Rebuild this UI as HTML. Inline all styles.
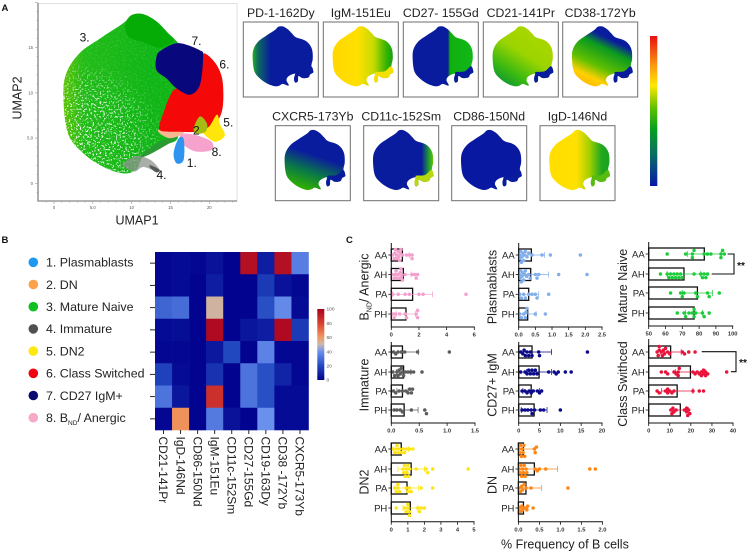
<!DOCTYPE html>
<html lang="en">
<head>
<meta charset="utf-8">
<title>B cell UMAP, heatmap and frequency panels</title>
<style>
html,body{margin:0;padding:0;background:#fff;}
svg{display:block;font-family:"Liberation Sans",sans-serif;}
</style>
</head>
<body>
<svg id="figure" xmlns="http://www.w3.org/2000/svg" width="749" height="553" viewBox="0 0 749 553">
  <defs>
    <filter id="speckle" x="0" y="0" width="100%" height="100%">
      <feTurbulence type="fractalNoise" baseFrequency="0.55" numOctaves="2" seed="7"/>
      <feColorMatrix type="matrix" values="0 0 0 0 1  0 0 0 0 1  0 0 0 0 1  0 0 0 16 -9.4"/>
    </filter>
    <radialGradient id="speckle-density" gradientUnits="userSpaceOnUse" cx="80" cy="145" r="85">
      <stop offset="0" stop-color="#fff" stop-opacity="1"/>
      <stop offset="0.6" stop-color="#fff" stop-opacity="0.75"/>
      <stop offset="1" stop-color="#fff" stop-opacity="0.1"/>
    </radialGradient>
    <mask id="speckle-mask" maskUnits="userSpaceOnUse" x="0" y="0" width="749" height="553">
      <rect x="0" y="0" width="749" height="553" fill="url(#speckle-density)"/>
    </mask>
    <linearGradient id="green-fill" gradientUnits="userSpaceOnUse" x1="62" y1="70" x2="150" y2="70">
      <stop offset="0" stop-color="#60c406"/>
      <stop offset="0.25" stop-color="#22bc18"/>
      <stop offset="1" stop-color="#10b616"/>
    </linearGradient>
    <linearGradient id="expression-scale" x1="0" y1="0" x2="0" y2="1">
      <stop offset="0" stop-color="#e81010"/>
      <stop offset="0.2" stop-color="#fb9a10"/>
      <stop offset="0.33" stop-color="#ffe800"/>
      <stop offset="0.48" stop-color="#60c000"/>
      <stop offset="0.62" stop-color="#04a020"/>
      <stop offset="0.78" stop-color="#0a7060"/>
      <stop offset="1" stop-color="#0418a8"/>
    </linearGradient>
    <linearGradient id="heat-scale" x1="0" y1="1" x2="0" y2="0">
      <stop offset="0" stop-color="#00008c"/>
      <stop offset="0.2" stop-color="#2248c0"/>
      <stop offset="0.4" stop-color="#6a90ee"/>
      <stop offset="0.5" stop-color="#c8b8b0"/>
      <stop offset="0.6" stop-color="#f09a60"/>
      <stop offset="0.8" stop-color="#d84030"/>
      <stop offset="1" stop-color="#a80020"/>
    </linearGradient>
  </defs>
</svg>
<script>
/* ---------- UMAP cluster outlines, in UMAP coordinates [umap1, umap2] ---------- */
const umapOutline = [[10,18.6],[11.5,18.7],[13.2,17.9],[14.7,16.6],[16,15.5],[18.8,14.7],[20.5,13.6],[21.6,11.8],[21.8,9.2],[21.4,7.6],[21.4,6.5],[22,5.3],[20.9,4.6],[20.3,3.7],[18.4,3.5],[16.9,4.1],[16.7,2.6],[15.8,2.2],[15.4,3.3],[15.8,4.8],[13.6,4.1],[12.8,2.9],[13.6,1.5],[13.2,1.3],[11.5,1.8],[10.4,1.3],[8.9,1.1],[6.4,1.8],[3.8,3.3],[1.8,5.5],[1.2,9.6],[1.6,12.2],[3.3,14.4],[5.9,16],[8.9,17.7]];
const clusterMatureNaive = [[10,18.6],[11.5,18.7],[13.2,17.9],[14.7,16.6],[16,15.5],[17,14],[17,10],[16,6.5],[15.8,4.8],[13.6,4.1],[11.5,3],[10.6,1.5],[8.9,1.1],[6.4,1.8],[3.8,3.3],[1.8,5.5],[1.2,9.6],[1.6,12.2],[3.3,14.4],[5.9,16],[8.9,17.7]];
const clusterNaiveDense = [[9.2,17.6],[10,18.6],[11.5,18.7],[13.2,17.9],[14.7,16.6],[15.4,15.8],[13.6,15],[11.5,15.6],[9.6,16.2]];
const clusterNaiveStreak = [[11.2,3.1],[13.6,4.6],[15.8,5],[13.4,3.7],[11.5,2.9]];
const clusterSwitched = [[15.8,10.5],[18.4,10.7],[19,14.2],[20.5,13.6],[21.6,11.8],[21.8,9.2],[21.4,7.4],[20.2,6.2],[18.4,5.7],[16.2,5.7],[13.8,5.8],[13.6,6.5],[14.1,7.8],[14.9,9.6]];
const clusterCd27 = [[13.8,14.7],[16,15.5],[18.8,14.7],[19.2,14],[18.8,10.9],[17.5,9.8],[15.8,10.5],[14.5,11.6],[13.2,12.5],[13.2,14]];
const clusterDn2 = [[21,7.6],[21.4,6.5],[22,5.3],[20.9,4.6],[19.9,5],[19.2,5.7],[20.1,6.4]];
const clusterDn = [[18.8,7.4],[19.7,6.6],[19.5,5.7],[18.4,5.5],[18,6.1]];
const clusterAnergic = [[16.6,5.5],[18.4,5.3],[20.3,4.6],[20.3,3.7],[18.4,3.5],[16.9,4.1],[16.2,5]];
const clusterPlasmablast = [[16,4.9],[16.7,4.9],[16.7,2.6],[15.8,2.2],[15.4,3.3]];
const clusterImmature = [[8.9,2.2],[10.6,3],[12.4,2.6],[13.6,1.5],[13.2,1.3],[11.5,1.8],[10.4,1.3],[9.2,1.7]];
const clusterImmatureTail = [[12.4,2],[13.6,1.5],[13.2,1.2],[12.4,1.7]];
const clusterBridge = [[13.4,5.9],[16.4,6.1],[16.6,5.5],[14.8,5]];
const umapXTicks = [0,5,10,15,20];
const umapXLabels = ['0','5.0','10','15','20'];
const umapYTicks = [0,5,10,15];
const umapYLabels = ['0','5.0','10','15'];
const clusterCallouts = ['3.','7.','6.','5.','2','8.','1.','4.'];
const clusterCalloutU = [3.3,17.7,21.3,21.8,17.9,20.3,17.1,13.2];
const clusterCalloutV = [16.2,15.8,13.2,6.8,5.9,3.5,2.3,1];

/* ---------- marker panels ---------- */
const markerTitles = ['PD-1-162Dy','IgM-151Eu','CD27- 155Gd','CD21-141Pr','CD38-172Yb','CXCR5-173Yb','CD11c-152Sm','CD86-150Nd','IgD-146Nd'];
const lobeOutline = [[16,5.3],[19,5.5],[21.2,7],[22,5.3],[20.9,4.6],[20.3,3.7],[18.4,3.5],[16.9,4.1],[16.7,2.6],[15.8,2.2],[15.4,3.3],[15.8,4.8]];
const markerBoxLeft = [243.3,323.3,403.3,483.3,562.7,275.3,363.7,451.7,540];
const markerBoxTop = [22,22,22,22,22,125.7,125.7,125.7,125.7];
const markerLobeColors = ['#0a1c9e','#f4e000','#0a1c9e','#0a1c9e','#0a1c9e','#0a1c9e','#b8d810','#0a1c9e','#58bc10'];
const markerGradients = [
  {x1:0,y1:0.5,x2:1,y2:0.5,stops:[[0,'#28b01c'],[0.09,'#0c6a60'],[0.3,'#0a1c9e'],[1,'#0a1c9e']]},
  {x1:0,y1:0.5,x2:1,y2:0.5,stops:[[0,'#ffd800'],[0.42,'#ffe000'],[0.68,'#c4da00'],[0.88,'#38b400'],[1,'#10a010']]},
  {x1:0,y1:0.5,x2:1,y2:0.5,stops:[[0,'#0a1c9e'],[0.58,'#0a1c9e'],[0.62,'#10b010'],[1,'#10b818']]},
  {x1:0.9,y1:0,x2:0.25,y2:1,stops:[[0,'#b0d800'],[0.5,'#9cd400'],[0.8,'#3cba10'],[1,'#109a30']]},
  {x1:0.85,y1:0.04,x2:0.38,y2:1,stops:[[0,'#0a1c9e'],[0.24,'#0a1c9e'],[0.4,'#0c9a20'],[0.7,'#60c000'],[0.9,'#ffd000'],[1,'#ffc000']]},
  {x1:0.62,y1:0.25,x2:0.36,y2:1,stops:[[0,'#0a1c9e'],[0.25,'#0a1c9e'],[0.62,'#0a7848'],[1,'#30b000']]},
  {x1:0,y1:0.5,x2:1,y2:0.5,stops:[[0,'#0a1c9e'],[0.8,'#0a1c9e'],[0.92,'#20a030'],[1,'#70c800']]},
  {x1:0,y1:0.5,x2:1,y2:0.5,stops:[[0,'#0818a0'],[1,'#0818a0']]},
  {x1:0,y1:0.5,x2:1,y2:0.5,stops:[[0,'#ffde00'],[0.45,'#ffe000'],[0.66,'#a4d000'],[0.86,'#20a820'],[1,'#18a020']]}
];

/* ---------- legend + heatmap ---------- */
const legendLabels = ['1. Plasmablasts','2. DN','3. Mature Naive','4. Immature','5. DN2','6. Class Switched','7. CD27 IgM+','8. B'];
const legendColors = ['#1e98f0','#fba24a','#10c020','#505050','#ffe810','#f00010','#0a0a70','#f8a8c8'];
const heatColumns = ['CD21-141Pr','IgD-146Nd','CD86-150Nd','IgM-151Eu','CD11c-152Sm','CD27-155Gd','CD19-163Dy','CD38 -172Yb','CXCR5-173Yb'];
const heatPlasmablasts = [2,3,2,5,1,95,8,95,35];
const heatDn = [2,3,1,8,1,1,16,5,2];
const heatMatureNaive = [28,30,1,52,1,1,22,38,3];
const heatImmature = [3,4,1,97,1,6,8,97,16];
const heatDn2 = [2,2,1,7,20,1,36,2,2];
const heatSwitched = [18,3,1,14,1,32,22,10,2];
const heatCd27 = [32,6,1,85,1,32,22,3,3];
const heatAnergic = [2,62,1,34,5,1,40,3,3];
const heatRows = [heatPlasmablasts,heatDn,heatMatureNaive,heatImmature,heatDn2,heatSwitched,heatCd27,heatAnergic];
const heatLegendTicks = [0,20,40,60,80,100];

/* ---------- frequency panels ---------- */
const groups = ['AA','AH','PA','PH'];

const anergicMeans = [0.8,0.87,1.54,1.06];
const anergicSd = [0.5,0.55,1.45,0.7];
const anergicPoints = [[0.1,0.2,0.25,0.3,0.4,0.4,0.5,0.55,0.6,0.65,0.7,0.8,1.1,1.3,1.5,1.5],[0.1,0.2,0.3,0.35,0.4,0.5,0.6,0.65,0.7,0.75,0.8,1,1.5,1.7,1.8,1.9],[0.1,0.5,1,1.3,2,2.3,5.4],[0.1,0.2,0.3,0.6,1,1.1,1.8,1.9,1.9]];

const plasmablastMeans = [0.38,0.36,0.3,0.27];
const plasmablastSd = [0.4,0.54,0.3,0.25];
const plasmablastPoints = [[0.02,0.04,0.06,0.08,0.1,0.12,0.15,0.18,0.2,0.25,0.3,0.4,0.7,0.95,1.85],[0.02,0.04,0.06,0.08,0.1,0.12,0.15,0.18,0.2,0.24,0.3,0.35,0.5,0.55,0.6,1.2,2.05],[0.03,0.08,0.15,0.2,0.3,0.4,0.5,0.55,0.9],[0.03,0.08,0.15,0.2,0.22,0.25,0.5,0.8]];

const matureMeans = [83.1,71,79,77];
const matureSd = [10,10,9,5];
const maturePoints = [[61,72,76,76,77,83,85,87,93,93,94,95],[57,61,62,63,64,65,66,67,68,69,70,77,81,82,83,84,85],[63,69,70,71,78,79,85,86,92],[67,71,72,74,76,77,77,78,82,83,86]];

const immatureMeans = [0.2,0.22,0.2,0.23];
const immatureSd = [0.29,0.13,0.1,0.25];
const immaturePoints = [[0.04,0.08,0.12,0.18,0.24,0.47,1.04],[0.03,0.06,0.1,0.12,0.14,0.16,0.18,0.2,0.22,0.25,0.3,0.35,0.4,0.55],[0.04,0.08,0.14,0.2,0.26,0.3,0.33,0.36,0.38],[0.05,0.1,0.16,0.2,0.36,0.6,0.63]];

const cd27Means = [3.2,4.9,3,3.7];
const cd27Sd = [4.7,3,2,3.1];
const cd27Points = [[0.5,1,1.3,1.6,2,2.4,2.8,3.2,4.8,5,16.5],[0.5,1.5,2,2.4,2.8,3.2,3.6,4,4.4,7.2,8.5,9,9.5,11.2,12.6],[0.8,1.5,2,2.5,3,3.5,4.5,5,5.5],[0.8,1.5,2.2,3,3.2,3.8,5.2,6,10]];

const switchedMeans = [10.4,19.8,13.5,15];
const switchedSd = [5,7,7.5,3.8];
const switchedPoints = [[4,4.5,5,5,6,6.5,7,7.5,8,9,10,16,17,19,22],[6,8,9,12,13,14,14,14.5,21,22,23,24,25,25,26,26,27,27,28,37],[4,5,8,9,9,10,11,12,21,24,26],[10.5,11,11.5,12,13,17,18,18,18.5,19,19.5]];

const dn2Means = [0.6,1.2,0.95,1.15];
const dn2Sd = [0.45,0.8,0.7,0.45];
const dn2Points = [[0.1,0.2,0.3,0.35,0.4,0.5,0.6,0.7,0.8,0.9,1.1,1.3],[0.7,0.75,0.8,0.85,0.9,0.95,1,1.05,1.1,1.5,2.1,2.2,2.5,4.65],[0.2,0.3,0.4,0.4,0.5,0.9,1,1.1,1.2,1.8,2.5],[0.3,0.8,0.9,1,1,1.1,1.1,1.6,1.7,1.8,2]];

const dnMeans = [0.12,0.38,0.18,0.12];
const dnSd = [0.28,0.55,0.37,0.1];
const dnPoints = [[0.02,0.03,0.05,0.07,0.09,0.11,0.13,0.15,0.38,0.4,0.43],[0.02,0.04,0.06,0.08,0.1,0.12,0.14,0.16,0.18,0.2,0.4,0.45,0.5,0.65,1.7,1.83],[0.02,0.05,0.08,0.1,0.14,0.18,0.3,1.18],[0.03,0.05,0.08,0.1,0.15,0.2,0.22,0.35]];

const anergicTicks = [0,2,4,6];
const anergicTickLabels = ['0','2','4','6'];
const plasmablastTicks = [0,0.5,1,1.5,2,2.5];
const plasmablastTickLabels = ['0.0','0.5','1.0','1.5','2.0','2.5'];
const matureTicks = [50,60,70,80,90,100];
const matureTickLabels = ['50','60','70','80','90','100'];
const immatureTicks = [0,0.5,1,1.5];
const immatureTickLabels = ['0.0','0.5','1.0','1.5'];
const cd27Ticks = [0,5,10,15,20];
const cd27TickLabels = ['0','5','10','15','20'];
const switchedTicks = [0,10,20,30,40];
const switchedTickLabels = ['0','10','20','30','40'];
const dn2Ticks = [0,1,2,3,4,5];
const dn2TickLabels = ['0','1','2','3','4','5'];
const dnTicks = [0,0.5,1,1.5,2];
const dnTickLabels = ['0.0','0.5','1.0','1.5','2.0'];

/* ---------- drawing helpers ---------- */
const SVGNS = 'http://www.w3.org/2000/svg';
const root = document.getElementById('figure');
const defs = root.querySelector('defs');
function shape(tag, attrs, parent, text) {
  const node = document.createElementNS(SVGNS, tag);
  for (const key in attrs) node.setAttribute(key, attrs[key]);
  if (text !== undefined) node.textContent = text;
  (parent || root).appendChild(node);
  return node;
}
/* closed Catmull-Rom outline through the cluster vertices */
function smoothPath(poly, fx, fy) {
  const pts = poly.map(function (p) { return [fx(p[0]), fy(p[1])]; });
  const n = pts.length;
  let d = 'M' + pts[0][0].toFixed(2) + ' ' + pts[0][1].toFixed(2);
  for (let i = 0; i < n; i++) {
    const p0 = pts[(i - 1 + n) % n], p1 = pts[i], p2 = pts[(i + 1) % n], p3 = pts[(i + 2) % n];
    const c1x = p1[0] + (p2[0] - p0[0]) / 6, c1y = p1[1] + (p2[1] - p0[1]) / 6;
    const c2x = p2[0] - (p3[0] - p1[0]) / 6, c2y = p2[1] - (p3[1] - p1[1]) / 6;
    d += 'C' + c1x.toFixed(2) + ' ' + c1y.toFixed(2) + ' ' + c2x.toFixed(2) + ' ' + c2y.toFixed(2) + ' ' + p2[0].toFixed(2) + ' ' + p2[1].toFixed(2);
  }
  return d + 'Z';
}
function linear(d0, d1, r0, r1) {
  return function (v) { return r0 + (v - d0) * (r1 - r0) / (d1 - d0); };
}
let el;

/* ---------- panel letters ---------- */
const panelLetters = ['A','B','C'];
const panelLetterX = [1.5,1.5,346];
const panelLetterY = [11,243,243];
panelLetters.forEach(function (letter, i) {
  el = shape('text', {x: panelLetterX[i], y: panelLetterY[i], 'font-size': 9.5, 'font-weight': 'bold', fill: '#111'}, root, letter);
  
  
});

/* ---------- Panel A: UMAP ---------- */
const umapX = linear(0, 20, 54, 209.3);
const umapY = linear(0, 15, 183.3, 47.7);
const umapGroup = shape('g', {});



el = shape('rect', {x: 38, y: 3.5, width: 199, height: 197.5, fill: '#fff', stroke: '#d8d8d8', 'stroke-width': 0.8}, umapGroup);


el = shape('line', {x1: 38, y1: 3, x2: 38, y2: 201.5, stroke: '#9a9a9a', 'stroke-width': 1.6}, umapGroup);


el = shape('line', {x1: 37.5, y1: 201, x2: 237, y2: 201, stroke: '#9a9a9a', 'stroke-width': 1.6}, umapGroup);



for (let t = -1; t <= 23; t++) {
  const major = t % 5 === 0;
  el = shape('line', {x1: umapX(t), y1: 201, x2: umapX(t), y2: major ? 204 : 202.5, stroke: '#999', 'stroke-width': 0.6}, umapGroup);
  
  
}
for (let t = -1; t <= 20; t++) {
  const major = t % 5 === 0;
  el = shape('line', {x1: 38, y1: umapY(t), x2: major ? 35 : 36.5, y2: umapY(t), stroke: '#999', 'stroke-width': 0.6}, umapGroup);
  
  
}
umapXTicks.forEach(function (t, i) {
  el = shape('text', {x: umapX(t), y: 209, 'font-size': 4.2, 'text-anchor': 'middle', fill: '#555'}, umapGroup, umapXLabels[i]);
  
  
});
umapYTicks.forEach(function (t, i) {
  el = shape('text', {x: 33, y: umapY(t) + 1.5, 'font-size': 4.2, 'text-anchor': 'end', fill: '#555'}, umapGroup, umapYLabels[i]);
  
  
});

/* naive cluster with sparse-point speckle */
const naiveClip = shape('clipPath', {id: 'naive-clip'}, defs);
shape('path', {d: smoothPath(clusterMatureNaive, umapX, umapY)}, naiveClip);
const naiveGroup = shape('g', {'clip-path': 'url(#naive-clip)'}, umapGroup);


shape('rect', {x: 40, y: 5, width: 170, height: 190, fill: 'url(#green-fill)'}, naiveGroup);
const speckleGroup = shape('g', {mask: 'url(#speckle-mask)'}, naiveGroup);
shape('rect', {x: 40, y: 5, width: 170, height: 190, filter: 'url(#speckle)'}, speckleGroup);

const umapLayers = [
  [clusterNaiveDense, '#06ac06', 1, 'umap-cluster-naive-dense'],
  [clusterNaiveStreak, '#2c9a34', 1, 'umap-cluster-naive-streak'],
  [clusterImmature, '#8c938c', 0.75, 'umap-cluster-immature'],
  [clusterImmatureTail, '#555a55', 1, 'umap-cluster-immature-tail'],
  [clusterBridge, '#f6b890', 1, 'umap-cluster-bridge'],
  [clusterSwitched, '#f40808', 1, 'umap-cluster-class-switched'],
  [clusterCd27, '#08087c', 1, 'umap-cluster-cd27-igm'],
  [clusterDn2, '#ffe60a', 1, 'umap-cluster-dn2'],
  [clusterDn, '#a6bc12', 1, 'umap-cluster-dn'],
  [clusterAnergic, '#f6a2cc', 1, 'umap-cluster-anergic'],
  [clusterPlasmablast, '#2f94f0', 1, 'umap-cluster-plasmablasts']
];
umapLayers.forEach(function (layer) {
  el = shape('path', {d: smoothPath(layer[0], umapX, umapY), fill: layer[1], 'fill-opacity': layer[2]}, umapGroup);
  
  
});
clusterCallouts.forEach(function (label, i) {
  el = shape('text', {x: umapX(clusterCalloutU[i]), y: umapY(clusterCalloutV[i]) + 4.5, 'font-size': 12, fill: '#111'}, umapGroup, label);
  
  
});
el = shape('text', {x: 137, y: 224.5, 'font-size': 12.5, 'text-anchor': 'middle', fill: '#222'}, umapGroup, 'UMAP1');


el = shape('text', {x: 0, y: 0, transform: 'translate(21.5,98) rotate(-90)', 'font-size': 12.5, 'text-anchor': 'middle', fill: '#222'}, umapGroup, 'UMAP2');



/* ---------- Panel A: marker maps ---------- */
markerTitles.forEach(function (title, i) {
  const boxX = markerBoxLeft[i];
  const boxY = markerBoxTop[i];
  const miniX = linear(0, 1, boxX + 5.8, boxX + 8.72);
  const miniY = linear(0, 1, boxY + 68, boxY + 64.6);
  const g = markerGradients[i];
  const gradient = shape('linearGradient', {id: 'marker-grad-' + i, x1: g.x1, y1: g.y1, x2: g.x2, y2: g.y2}, defs);
  g.stops.forEach(function (s) { shape('stop', {offset: s[0], 'stop-color': s[1]}, gradient); });

  const panel = shape('g', {});
  
  

  el = shape('text', {x: boxX + 37.5, y: boxY - 5, 'font-size': 12.3, 'text-anchor': 'middle', fill: '#222'}, panel, title);
  
  
  el = shape('rect', {x: boxX, y: boxY, width: 75, height: 75, fill: '#fff', stroke: '#6e6e6e', 'stroke-width': 1}, panel);
  
  
  el = shape('path', {d: smoothPath(umapOutline, miniX, miniY), fill: 'url(#marker-grad-' + i + ')'}, panel);
  
  
  el = shape('path', {d: smoothPath(lobeOutline, miniX, miniY), fill: markerLobeColors[i]}, panel);
  
  
});

el = shape('rect', {x: 650, y: 36, width: 7.3, height: 150, fill: 'url(#expression-scale)'});



/* ---------- Panel B: legend ---------- */
const legendRowY = linear(0, 7, 262.3, 417.7);
legendLabels.forEach(function (label, i) {
  const row = shape('g', {});
  
  
  el = shape('circle', {cx: 33.3, cy: legendRowY(i), r: 4.8, fill: legendColors[i]}, row);
  
  
  el = shape('text', {x: 46, y: legendRowY(i) + 4.3, 'font-size': 12.4, fill: '#222'}, row, label);
  
  
  if (i === 7) {
    shape('tspan', {'font-size': 6.5, dy: 3}, el, 'ND');
    shape('tspan', {dy: -3}, el, '/ Anergic');
  }
});

/* ---------- Panel B: heatmap ---------- */
const heatStops = [[0,[0,0,140]],[20,[34,72,192]],[40,[106,144,238]],[50,[200,184,176]],[60,[240,154,96]],[80,[216,64,48]],[100,[168,0,32]]];
function heatColor(v) {
  for (let i = 1; i < heatStops.length; i++) {
    if (v <= heatStops[i][0]) {
      const a = heatStops[i - 1], b = heatStops[i];
      const t = (v - a[0]) / (b[0] - a[0]);
      return 'rgb(' + a[1].map(function (c, k) { return Math.round(c + (b[1][k] - c) * t); }).join(',') + ')';
    }
  }
  return 'rgb(168,0,32)';
}
const heatLeft = 155, heatTop = 252, cellW = 153.5 / 9, cellH = 178 / 8;
const heatGroup = shape('g', {});


heatRows.forEach(function (values, r) {
  values.forEach(function (v, c) {
    el = shape('rect', {x: heatLeft + c * cellW, y: heatTop + r * cellH, width: cellW + 0.3, height: cellH + 0.3, fill: heatColor(v)}, heatGroup);
    
    
  });
  el = shape('line', {x1: 150, x2: 155, y1: heatTop + (r + 0.5) * cellH, y2: heatTop + (r + 0.5) * cellH, stroke: '#111', 'stroke-width': 0.9}, heatGroup);
  
  
});
heatColumns.forEach(function (name, c) {
  const cx = heatLeft + (c + 0.5) * cellW;
  el = shape('line', {x1: cx, x2: cx, y1: 430, y2: 434, stroke: '#111', 'stroke-width': 0.9}, heatGroup);
  
  
  el = shape('text', {x: 0, y: 0, transform: 'translate(' + (cx - 4.3) + ',436.5) rotate(90)', 'font-size': 12, fill: '#222'}, heatGroup, name);
  
  
});
const heatLegendY = linear(0, 100, 380, 309);
el = shape('rect', {x: 317.3, y: 309, width: 7, height: 71, fill: 'url(#heat-scale)'});


heatLegendTicks.forEach(function (t) {
  el = shape('text', {x: 326.5, y: heatLegendY(t) + 1.7, 'font-size': 4.8, fill: '#555'}, root, String(t));
  
  
});

/* ---------- Panel C ---------- */
function swarmOffsets(pixels, radius) {
  const placed = [];
  const spacing = radius * 1.55;
  return pixels.map(function (x) {
    let offset = 0;
    for (let k = 0; k < 14; k++) {
      const step = Math.ceil(k / 2) * (k % 2 ? 1 : -1) * radius * 1.05;
      const free = placed.every(function (p) {
        return Math.hypot(p[0] - x, p[1] - step) >= spacing;
      });
      if (free) { offset = step; break; }
    }
    placed.push([x, offset]);
    return offset;
  });
}
const cPanels = [
  {key:'anergic', color:'#f4a0cc', left:391.3, right:474.3, dmin:0, dmax:6, ticks:anergicTicks, labels:anergicTickLabels, means:anergicMeans, sd:anergicSd, points:anergicPoints, rows:[255,274.5,294.3,314], top:243, bottom:327, titleX:364, titleY:287},
  {key:'plasmablasts', color:'#82aeec', left:518.7, right:602, dmin:0, dmax:2.5, ticks:plasmablastTicks, labels:plasmablastTickLabels, means:plasmablastMeans, sd:plasmablastSd, points:plasmablastPoints, rows:[255,274.5,294.3,314], top:243, bottom:327, titleX:492, titleY:287, title:'Plasmablasts'},
  {key:'mature-naive', color:'#1ccc3a', left:648.7, right:732.7, dmin:50, dmax:100, ticks:matureTicks, labels:matureTickLabels, means:matureMeans, sd:matureSd, points:maturePoints, rows:[254,274,293,313], top:242, bottom:326, titleX:622.7, titleY:286, title:'Mature Naive'},
  {key:'immature', color:'#5c5c5c', left:391.3, right:475, dmin:0, dmax:1.5, ticks:immatureTicks, labels:immatureTickLabels, means:immatureMeans, sd:immatureSd, points:immaturePoints, rows:[352,372,391,410], top:342, bottom:423, titleX:364, titleY:385, title:'Immature'},
  {key:'cd27-igm', color:'#0a0a8a', left:518.7, right:602, dmin:0, dmax:20, ticks:cd27Ticks, labels:cd27TickLabels, means:cd27Means, sd:cd27Sd, points:cd27Points, rows:[352,372,391,410], top:342, bottom:423, titleX:492, titleY:385, title:'CD27+ IgM'},
  {key:'class-switched', color:'#e8143c', left:648.7, right:733, dmin:0, dmax:40, ticks:switchedTicks, labels:switchedTickLabels, means:switchedMeans, sd:switchedSd, points:switchedPoints, rows:[352,372,391,410], top:339, bottom:423, titleX:622.7, titleY:384, title:'Class Swithced'},
  {key:'dn2', color:'#ffe414', left:391.3, right:474, dmin:0, dmax:5, ticks:dn2Ticks, labels:dn2TickLabels, means:dn2Means, sd:dn2Sd, points:dn2Points, rows:[449,469,488,508], top:443, bottom:521.7, titleX:364, titleY:482, title:'DN2'},
  {key:'dn', color:'#ff8614', left:518.4, right:602.4, dmin:0, dmax:2, ticks:dnTicks, labels:dnTickLabels, means:dnMeans, sd:dnSd, points:dnPoints, rows:[449,469,488,508], top:443, bottom:521.7, titleX:492, titleY:485, title:'DN'}
];
cPanels.forEach(function (p) {
  const xScale = linear(p.dmin, p.dmax, p.left, p.right);
  const panel = shape('g', {});
  
  

  groups.forEach(function (groupName, r) {
    const cy = p.rows[r];
    el = shape('rect', {x: p.left, y: cy - 6, width: xScale(p.means[r]) - p.left, height: 12, fill: '#fff', stroke: '#111', 'stroke-width': 1.3}, panel);
    
    

    const lo = Math.max(p.dmin, p.means[r] - p.sd[r]);
    const hi = p.means[r] + p.sd[r];
    el = shape('line', {x1: xScale(lo), x2: xScale(hi), y1: cy, y2: cy, stroke: p.color, 'stroke-width': 0.7}, panel);
    
    
    el = shape('line', {x1: xScale(hi), x2: xScale(hi), y1: cy - 3, y2: cy + 3, stroke: p.color, 'stroke-width': 0.7}, panel);
    
    
    el = shape('line', {x1: xScale(lo), x2: xScale(lo), y1: cy - 3, y2: cy + 3, stroke: p.color, 'stroke-width': 0.7}, panel);
    
    

    const pixels = p.points[r].map(xScale);
    const offsets = swarmOffsets(pixels, 1.75);
    pixels.forEach(function (px, k) {
      el = shape('circle', {cx: px, cy: cy + offsets[k], r: 1.75, fill: p.color}, panel);
      
      
    });

    el = shape('line', {x1: p.left - 3, x2: p.left, y1: cy, y2: cy, stroke: '#111', 'stroke-width': 0.8}, panel);
    
    
    el = shape('text', {x: p.left - 4, y: cy + 3.4, 'font-size': 9.5, 'text-anchor': 'end', fill: '#222'}, panel, groupName);
    
    
  });

  el = shape('line', {x1: p.left, x2: p.left, y1: p.top, y2: p.bottom + 0.5, stroke: '#111', 'stroke-width': 1}, panel);
  
  
  el = shape('line', {x1: p.left, x2: p.right + 0.5, y1: p.bottom, y2: p.bottom, stroke: '#111', 'stroke-width': 1}, panel);
  
  
  p.ticks.forEach(function (t, i) {
    el = shape('line', {x1: xScale(t), x2: xScale(t), y1: p.bottom, y2: p.bottom + 3, stroke: '#111', 'stroke-width': 0.8}, panel);
    
    
    el = shape('text', {x: xScale(t), y: p.bottom + 9.6, 'font-size': 5.8, 'font-weight': 'bold', 'text-anchor': 'middle', fill: '#333'}, panel, p.labels[i]);
    
    
  });

  el = shape('text', {x: 0, y: 0, transform: 'translate(' + (p.titleX + 4.4) + ',' + p.titleY + ') rotate(-90)', 'font-size': 12.5, 'text-anchor': 'middle', fill: '#222'}, panel, p.title || 'B');
  
  
  if (!p.title) {
    shape('tspan', {'font-size': 7, dy: 3}, el, 'ND');
    shape('tspan', {dy: -3}, el, '/ Anergic');
  }
});

/* significance brackets */
el = shape('polyline', {points: '711.7,274 734,274 734,254 727.7,254', fill: 'none', stroke: '#111', 'stroke-width': 1.1});


el = shape('text', {x: 741, y: 269, 'font-size': 10, 'font-weight': 'bold', 'text-anchor': 'middle', fill: '#111'}, root, '**');


el = shape('polyline', {points: '701.7,351.7 736,351.7 736,371.7 731,371.7', fill: 'none', stroke: '#111', 'stroke-width': 1.1});


el = shape('text', {x: 743, y: 366, 'font-size': 10, 'font-weight': 'bold', 'text-anchor': 'middle', fill: '#111'}, root, '**');



el = shape('text', {x: 501, y: 548.5, 'font-size': 12.5, fill: '#222'}, root, '% Frequency of B cells');


</script>
</body>
</html>
